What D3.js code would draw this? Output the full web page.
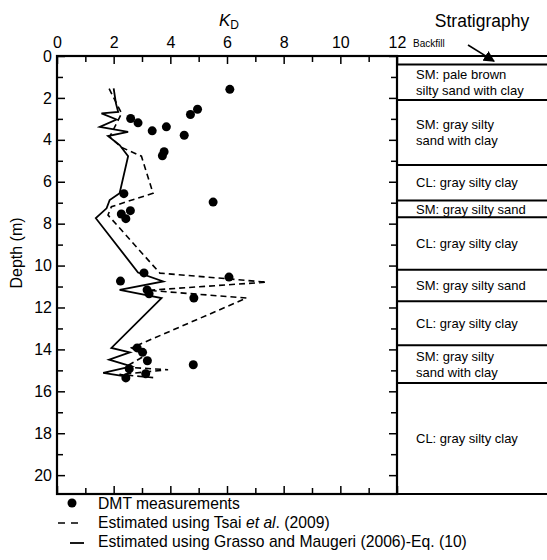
<!DOCTYPE html>
<html>
<head>
<meta charset="utf-8">
<script src="https://cdn.jsdelivr.net/npm/d3@7"></script>
<style>
  body { margin: 0; background: #fff; }
  svg { display: block; font-family: Arial, "Liberation Sans", sans-serif; }
</style>
</head>
<body>
<svg id="chart" width="547" height="560"></svg>
<script>
// ---------- DATA ----------
// DMT measurements: KD value and depth (m)
const dmtKD    = [6.10, 4.96, 4.71, 2.60, 2.86, 3.86, 3.36, 4.49, 3.78, 3.72, 2.36, 5.51, 2.59, 2.27, 2.43,
                  3.07, 6.07, 2.24, 3.18, 3.25, 4.83, 2.83, 3.02, 3.19, 4.81, 2.55, 3.13, 2.43];
const dmtDepth = [1.59, 2.54, 2.79, 2.98, 3.19, 3.38, 3.57, 3.78, 4.57, 4.76, 6.57, 6.97, 7.38, 7.54, 7.76,
                  10.35, 10.55, 10.74, 11.16, 11.35, 11.55, 13.93, 14.14, 14.54, 14.73, 14.93, 15.16, 15.36];

// Estimated using Tsai et al. (2009) – dashed
const tsaiKD    = [1.84, 2.28, 1.86, 2.28, 2.98, 3.39, 1.92, 1.80, 3.63, 7.40, 3.21, 6.69, 2.63, 3.10, 2.40, 3.92, 2.20, 3.51];
const tsaiDepth = [1.56, 2.74, 3.86, 4.36, 4.78, 6.55, 7.19, 7.59, 10.36, 10.79, 11.18, 11.55, 13.93, 14.30, 14.85, 14.97, 15.20, 15.36];

// Estimated using Grasso and Maugeri (2006)-Eq. (10) – solid
const grassoKD    = [2.00, 2.08, 2.16, 1.57, 2.10, 1.51, 2.51, 1.80, 2.21, 2.51, 2.21, 1.86, 1.75, 1.37,
                     2.86, 3.75, 2.21, 3.69, 1.92, 2.57, 1.84, 2.63, 1.63, 2.47];
const grassoDepth = [1.55, 2.26, 2.67, 2.74, 3.03, 3.38, 3.62, 3.82, 4.25, 4.78, 6.55, 6.87, 7.27, 7.74,
                     10.33, 10.76, 11.16, 11.55, 13.93, 14.14, 14.49, 14.81, 15.12, 15.30];

// Stratigraphy
const layerTop    = [0.0, 0.4, 2.1, 5.2, 6.9, 7.7, 10.2, 11.7, 13.8, 15.6];
const layerBottom = [0.4, 2.1, 5.2, 6.9, 7.7, 10.2, 11.7, 13.8, 15.6, 20.9];
const layerLabels = [
  [],
  ["SM: pale brown", "silty sand with clay"],
  ["SM: gray silty", "sand with clay"],
  ["CL: gray silty clay"],
  ["SM: gray silty sand"],
  ["CL: gray silty clay"],
  ["SM: gray silty sand"],
  ["CL: gray silty clay"],
  ["SM: gray silty", "sand with clay"],
  ["CL: gray silty clay"]
];

const xMajorTicks = [0, 2, 4, 6, 8, 10, 12];
const xMinorTicks = [1, 3, 5, 7, 9, 11];
const yMajorTicks = [0, 2, 4, 6, 8, 10, 12, 14, 16, 18, 20];
const yMinorTicks = [1, 3, 5, 7, 9, 11, 13, 15, 17, 19];

const legendLabels = ["DMT measurements", "Estimated using Tsai ", "Estimated using Grasso and Maugeri (2006)-Eq. (10)"];

// ---------- LAYOUT ----------
const svg = d3.select("#chart");
const L = 57, R = 397, T = 56, B = 494;
const x = d3.scaleLinear().domain([0, 12]).range([L, R]);
const y = d3.scaleLinear().domain([0, 20.9]).range([T, B]);
const fs = 16;

// ---------- AXES ----------
function styleAxis(g) {
  g.selectAll(".domain").remove();
  g.selectAll(".tick line").attr("stroke", "#000").attr("stroke-width", 1.5);
  g.selectAll(".tick text").attr("fill", "#000").attr("font-size", fs).attr("font-family", "Arial, 'Liberation Sans', sans-serif");
}
// top (labelled)
svg.append("g").attr("transform", `translate(0,${T})`)
  .call(d3.axisTop(x).tickValues(xMajorTicks).tickSize(-8).tickPadding(8).tickFormat(d3.format("d")))
  .call(styleAxis);
svg.append("g").attr("transform", `translate(0,${T})`)
  .call(d3.axisTop(x).tickValues(xMinorTicks).tickSize(-6).tickFormat(""))
  .call(styleAxis);
// bottom (ticks only)
svg.append("g").attr("transform", `translate(0,${B})`)
  .call(d3.axisBottom(x).tickValues(xMajorTicks).tickSize(-8).tickFormat(""))
  .call(styleAxis);
svg.append("g").attr("transform", `translate(0,${B})`)
  .call(d3.axisBottom(x).tickValues(xMinorTicks).tickSize(-6).tickFormat(""))
  .call(styleAxis);
// left (labelled)
svg.append("g").attr("transform", `translate(${L},0)`)
  .call(d3.axisLeft(y).tickValues(yMajorTicks).tickSize(-8).tickPadding(5).tickFormat(d3.format("d")))
  .call(styleAxis);
svg.append("g").attr("transform", `translate(${L},0)`)
  .call(d3.axisLeft(y).tickValues(yMinorTicks).tickSize(-6).tickFormat(""))
  .call(styleAxis);
// right (ticks only)
svg.append("g").attr("transform", `translate(${R},0)`)
  .call(d3.axisRight(y).tickValues(yMajorTicks).tickSize(-8).tickFormat(""))
  .call(styleAxis);
svg.append("g").attr("transform", `translate(${R},0)`)
  .call(d3.axisRight(y).tickValues(yMinorTicks).tickSize(-6).tickFormat(""))
  .call(styleAxis);

// frame
svg.append("rect").attr("x", L).attr("y", T).attr("width", R - L).attr("height", B - T)
  .attr("fill", "none").attr("stroke", "#000").attr("stroke-width", 2.2);

// axis titles
const kd = svg.append("text").attr("x", x(6) - 8).attr("y", 26).attr("font-size", 17).attr("fill", "#000");
kd.append("tspan").attr("font-style", "italic").text("K");
kd.append("tspan").attr("font-size", 12).attr("dy", 3).text("D");

svg.append("text").attr("transform", `translate(22,${(T + B) / 2 - 22}) rotate(-90)`)
  .attr("text-anchor", "middle").attr("font-size", fs).attr("fill", "#000").text("Depth (m)");

// ---------- STRATIGRAPHY ----------
const strat = svg.append("g");
const SX = R, SX2 = 560;
strat.selectAll("line.layer").data(layerTop.concat([layerBottom[layerBottom.length - 1]]))
  .join("line").attr("class", "layer")
  .attr("x1", SX).attr("x2", SX2)
  .attr("y1", d => y(d)).attr("y2", d => y(d))
  .attr("stroke", "#000").attr("stroke-width", 2);

layerLabels.forEach((lines, i) => {
  if (!lines.length) return;
  const cy = (y(layerTop[i]) + y(layerBottom[i])) / 2;
  const lh = 16;
  lines.forEach((s, j) => {
    strat.append("text")
      .attr("x", 416)
      .attr("y", cy + (j - (lines.length - 1) / 2) * lh)
      .attr("dy", "0.36em")
      .attr("font-size", 13).attr("fill", "#000").text(s);
  });
});

svg.append("text").attr("x", 482).attr("y", 27).attr("text-anchor", "middle")
  .attr("font-size", 17.5).attr("fill", "#000").text("Stratigraphy");
svg.append("text").attr("x", 413).attr("y", 47).attr("font-size", 10).attr("fill", "#000").text("Backfill");

svg.append("defs").append("marker").attr("id", "arr")
  .attr("viewBox", "0 0 10 10").attr("refX", 9).attr("refY", 5)
  .attr("markerWidth", 7).attr("markerHeight", 7).attr("orient", "auto")
  .append("path").attr("d", "M0,0 L10,5 L0,10 z").attr("fill", "#000");
svg.append("line").attr("x1", 468).attr("y1", 45).attr("x2", 494).attr("y2", y(0.2) + 1)
  .attr("stroke", "#000").attr("stroke-width", 1.6).attr("marker-end", "url(#arr)");

// ---------- DATA MARKS ----------
const lineGen = d3.line().x(d => x(d[0])).y(d => y(d[1]));
svg.append("path").datum(tsaiKD.map((v, i) => [v, tsaiDepth[i]]))
  .attr("d", lineGen).attr("fill", "none").attr("stroke", "#000")
  .attr("stroke-width", 1.6).attr("stroke-dasharray", "6,4");
svg.append("path").datum(grassoKD.map((v, i) => [v, grassoDepth[i]]))
  .attr("d", lineGen).attr("fill", "none").attr("stroke", "#000")
  .attr("stroke-width", 1.8);
svg.append("g").selectAll("circle").data(dmtKD.map((v, i) => [v, dmtDepth[i]]))
  .join("circle").attr("cx", d => x(d[0])).attr("cy", d => y(d[1])).attr("r", 4.5).attr("fill", "#000");

// ---------- LEGEND ----------
const lg = svg.append("g");
const lfs = 15.7;
lg.append("circle").attr("cx", 72).attr("cy", 503).attr("r", 4.5).attr("fill", "#000");
lg.append("text").attr("x", 98).attr("y", 508.5).attr("font-size", lfs).attr("fill", "#000").text(legendLabels[0]);
lg.append("line").attr("x1", 58).attr("x2", 80).attr("y1", 523).attr("y2", 523)
  .attr("stroke", "#000").attr("stroke-width", 1.6).attr("stroke-dasharray", "7,6");
const t2 = lg.append("text").attr("x", 98).attr("y", 527.5).attr("font-size", lfs).attr("fill", "#000");
t2.append("tspan").text(legendLabels[1]);
t2.append("tspan").attr("font-style", "italic").text("et al");
t2.append("tspan").text(". (2009)");
lg.append("line").attr("x1", 70).attr("x2", 84).attr("y1", 543).attr("y2", 543)
  .attr("stroke", "#000").attr("stroke-width", 1.8);
lg.append("text").attr("x", 98).attr("y", 547).attr("font-size", lfs).attr("fill", "#000").text(legendLabels[2]);
</script>
</body>
</html>
